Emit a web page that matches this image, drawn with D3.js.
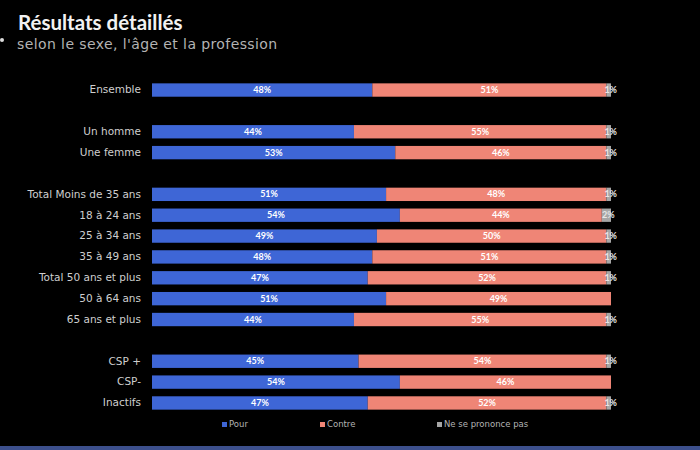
<!DOCTYPE html>
<html><head><meta charset="utf-8">
<script src="https://cdn.jsdelivr.net/npm/d3@7"></script>
<style>
html,body{margin:0;padding:0;background:#000;}
svg{display:block;}
</style></head>
<body>
<svg id="chart" width="700" height="450"></svg>
<script>
const categories = ["Ensemble","", "Un homme","Une femme","", "Total Moins de 35 ans","18 à 24 ans","25 à 34 ans","35 à 49 ans","Total 50 ans et plus","50 à 64 ans","65 ans et plus","", "CSP +","CSP-","Inactifs"];
const pour   = [48,null,44,53,null,51,54,49,48,47,51,44,null,45,54,47];
const contre = [51,null,55,46,null,48,44,50,51,52,49,55,null,54,46,52];
const nsp    = [1,null,1,1,null,1,2,1,1,1,0,1,null,1,0,1];
const seriesNames = ["Pour","Contre","Ne se prononce pas"];
const colors = ["#3e66d6","#ef8576","#a6a6a6"];

const svg = d3.select("#chart");
const font = "Lato, 'DejaVu Sans', sans-serif";
const wide = "'DejaVu Sans', sans-serif";

svg.append("rect").attr("x",0).attr("y",0).attr("width",700).attr("height",450).attr("fill","#000");
svg.append("rect").attr("x",0).attr("y",446).attr("width",700).attr("height",4).attr("fill","#3c4f8c");
svg.append("circle").attr("cx",2).attr("cy",40).attr("r",2).attr("fill","#ddd");

svg.append("text").attr("x",18).attr("y",30).attr("fill","#f2f2f2")
  .attr("font-family",font).attr("font-weight","bold").attr("font-size",20.5).text("Résultats détaillés");
svg.append("text").attr("x",17).attr("y",49).attr("fill","#b3b3b3")
  .attr("font-family",wide).attr("font-size",14).attr("letter-spacing",0.4).text("selon le sexe, l'âge et la profession");

const keys = categories.map((c,i)=>"r"+i);
const y = d3.scaleBand().domain(keys).range([79.6,413.4]).paddingInner(0.36).paddingOuter(0.18);
const x = d3.scaleLinear().domain([0,100]).range([152,611]);

const rows = categories.map((c,i)=>({key:keys[i],label:c,vals:[pour[i],contre[i],nsp[i]]})).filter(d=>d.label!=="");

const g = svg.append("g");
rows.forEach(r=>{
  let acc=0;
  r.vals.forEach((v,j)=>{
    if(v>0){
      g.append("rect").attr("x",x(acc)).attr("y",y(r.key)).attr("width",x(acc+v)-x(acc)).attr("height",y.bandwidth()).attr("fill",colors[j]);
    }
    acc+=v;
  });
  acc=0;
  r.vals.forEach((v,j)=>{
    if(v>0){
      const cx = j===2 ? x(acc+v/2)+2 : (x(acc)+x(acc+v))/2;
      g.append("text").attr("x",cx).attr("y",y(r.key)+y.bandwidth()/2).attr("dy","0.35em")
        .attr("text-anchor","middle").attr("fill", j===2?"#e6e6e6":"#fff")
        .attr("font-family",font).attr("font-weight","bold").attr("font-size",9)
        .text(v+"%");
    }
    acc+=v;
  });
});

const yAxis = d3.axisLeft(y).tickSize(0).tickPadding(11).tickFormat(k=>categories[keys.indexOf(k)]);
const ax = svg.append("g").attr("transform","translate(152,0)").call(yAxis);
ax.select(".domain").remove();
ax.selectAll("text").attr("fill","#cfcfcf").attr("font-family",wide).attr("font-size",10.5);

const legX = [222,320,437];
seriesNames.forEach((n,i)=>{
  svg.append("rect").attr("x",legX[i]).attr("y",422).attr("width",5).attr("height",5).attr("fill",colors[i]);
  svg.append("text").attr("x",legX[i]+7).attr("y",424.5).attr("dy","0.35em").attr("fill","#b3b3b3")
    .attr("font-family",wide).attr("font-size",8.5).text(n);
});
</script>
</body></html>
